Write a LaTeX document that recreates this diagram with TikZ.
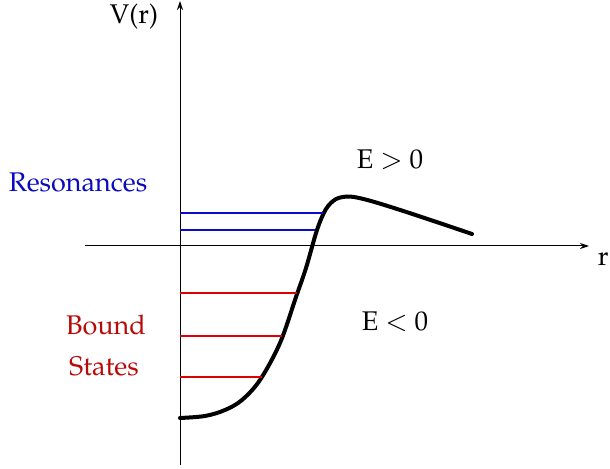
\documentclass[tikz,border=0pt]{standalone}
\usepackage[T1]{fontenc}
\usepackage{mathpazo}
\usepackage{xcolor}
\usepackage{tikz}
\usetikzlibrary{arrows.meta}
\definecolor{resblue}{RGB}{10,10,190}
\definecolor{resline}{RGB}{10,10,200}
\definecolor{boundred}{RGB}{185,10,10}
\definecolor{boundline}{RGB}{220,0,0}

\begin{document}
\begin{tikzpicture}[
    x=0.5pt, y=-0.5pt,
    axis/.style={-{Stealth[length=4.5pt, width=3pt]}, line width=0.5pt},
    potential/.style={line width=2pt, line cap=round},
    level/.style={line width=0.75pt, draw=#1},
    lbl/.style={font=\fontsize{13.5}{16}\selectfont, inner sep=0pt}
]
\useasboundingbox (0,0) rectangle (610,469);

% Axes
\draw[axis] (180,465) -- (180,1) coordinate (vtop);
\draw[axis] (85,246) -- (589,246) coordinate (rend);
\node[lbl] (vlab) at (134,17) {V(r)};
\node[lbl, anchor=east] (rlab) at (609,259) {r};

% Potential
\draw[potential] plot[smooth, tension=0.55] coordinates {
    (180,418) (205,416) (225,410) (242,400) (260,380) (280,343) (296,297)
    (306,268) (317,230) (326,209) (336,199) (347,196.5)}
    .. controls (358,196.5) and (372,200) .. (472,234);

% Resonances
\draw[level=resline] (180,213) -- (323,213);
\draw[level=resline] (180,230) -- (315,230);

% Bound states
\draw[level=boundline] (180,293) -- (297,293);
\draw[level=boundline] (180,336) -- (282,336);
\draw[level=boundline] (180,377) -- (262,377);

% Labels
\node[lbl, text=resblue] (res) at (78,182) {Resonances};
\node[lbl, text=boundred] (bound) at (106,325) {Bound};
\node[lbl, text=boundred] (states) at (104,366) {States};
\node[lbl] (epos) at (390,160) {E $>$ 0};
\node[lbl] (eneg) at (395,322) {E $<$ 0};

\end{tikzpicture}
\end{document}
